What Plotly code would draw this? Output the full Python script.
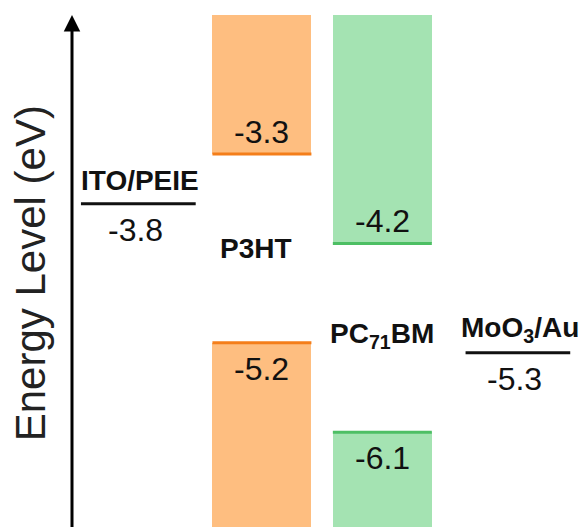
import plotly.graph_objects as go

# ---- data ----
materials = ["ITO/PEIE", "P3HT", "PC<sub>71</sub>BM", "MoO<sub>3</sub>/Au"]
electrodes = ["ITO/PEIE", "MoO<sub>3</sub>/Au"]
electrode_levels = [-3.8, -5.3]
semis = ["P3HT", "PC<sub>71</sub>BM"]
lumo = [-3.3, -4.2]
homo = [-5.2, -6.1]
band_top = -1.9
band_bottom = -7.5

# ---- layout constants ----
pos = dict(zip(materials, [0.02, 1.0, 1.955, 3.03]))
bar_w = 0.785
lvl_w = {"ITO/PEIE": 0.91, "MoO<sub>3</sub>/Au": 0.83}
y_range = [-7.055, -1.748]
x_range = [-1.077, 3.578]
axis_x = -0.506
txt = "#111111"
fills = ["#FEBE80", "#A4E3B2"]
lines = ["#F47E1A", "#4DBF64"]

fig = go.Figure()

# band boxes
for i, m in enumerate(semis):
    x = pos[m]
    fig.add_trace(go.Bar(x=[x], y=[band_top - lumo[i]], base=[lumo[i]], width=bar_w,
                         marker=dict(color=fills[i], line=dict(width=0)), showlegend=False))
    fig.add_trace(go.Bar(x=[x], y=[homo[i] - band_bottom], base=[band_bottom], width=bar_w,
                         marker=dict(color=fills[i], line=dict(width=0)), showlegend=False))
    for v in (lumo[i], homo[i]):
        fig.add_trace(go.Scatter(x=[x - bar_w / 2, x + bar_w / 2], y=[v, v], mode="lines",
                                 line=dict(color=lines[i], width=3), showlegend=False, hoverinfo="skip"))

# electrode levels
for m, v in zip(electrodes, electrode_levels):
    x = pos[m]
    w = lvl_w[m]
    fig.add_trace(go.Scatter(x=[x - w / 2, x + w / 2], y=[v, v], mode="lines",
                             line=dict(color="#111111", width=3), showlegend=False, hoverinfo="skip"))

ann = []
numfont = dict(family="Liberation Sans, Arial", size=32, color=txt)
boldfont = dict(family="Liberation Sans, Arial", size=28, color=txt)

# value labels
for i, m in enumerate(semis):
    x = pos[m]
    ann.append(dict(x=x, y=lumo[i], text=f"{lumo[i]:.1f}", showarrow=False, yshift=22, font=numfont))
    ann.append(dict(x=x, y=homo[i], text=f"{homo[i]:.1f}", showarrow=False, yshift=-26, font=numfont))
for m, v in zip(electrodes, electrode_levels):
    x = pos[m]
    ann.append(dict(x=x, y=v, text=f"{v:.1f}", showarrow=False, yshift=-26, xshift=-3, font=numfont))
    ann.append(dict(x=x, y=v, text=f"<b>{m}</b>", showarrow=False, yshift=23, xshift=2, font=boldfont))

# semiconductor names
ann.append(dict(x=pos["P3HT"], y=(lumo[0] + homo[0]) / 2, text="<b>P3HT</b>", showarrow=False,
                yshift=0, xshift=-6, font=boldfont))
ann.append(dict(x=pos["PC<sub>71</sub>BM"], y=(lumo[1] + homo[1]) / 2, text="<b>PC<sub>71</sub>BM</b>",
                showarrow=False, yshift=2, xshift=0, font=boldfont))

# energy axis arrow
ann.append(dict(x=axis_x, y=band_top, ax=axis_x, ay=y_range[0] - 0.2, xref="x", yref="y",
                axref="x", ayref="y", showarrow=True, arrowhead=2, arrowsize=1.1, arrowwidth=3,
                arrowcolor="#000000", text="", standoff=0, startstandoff=0))
ann.append(dict(x=30 / 587, y=-4.5, xref="paper", yref="y", xanchor="center", yanchor="middle",
                text="Energy Level (eV)", textangle=-90, showarrow=False,
                font=dict(family="Liberation Sans, Arial", size=42, color="#222222")))

fig.update_layout(
    width=587, height=527, margin=dict(l=0, r=0, t=0, b=0),
    paper_bgcolor="white", plot_bgcolor="white", barmode="overlay", bargap=0,
    xaxis=dict(range=x_range, visible=False, fixedrange=True),
    yaxis=dict(range=y_range, visible=False, fixedrange=True),
    annotations=ann,
)

fig.write_html("out.html")
